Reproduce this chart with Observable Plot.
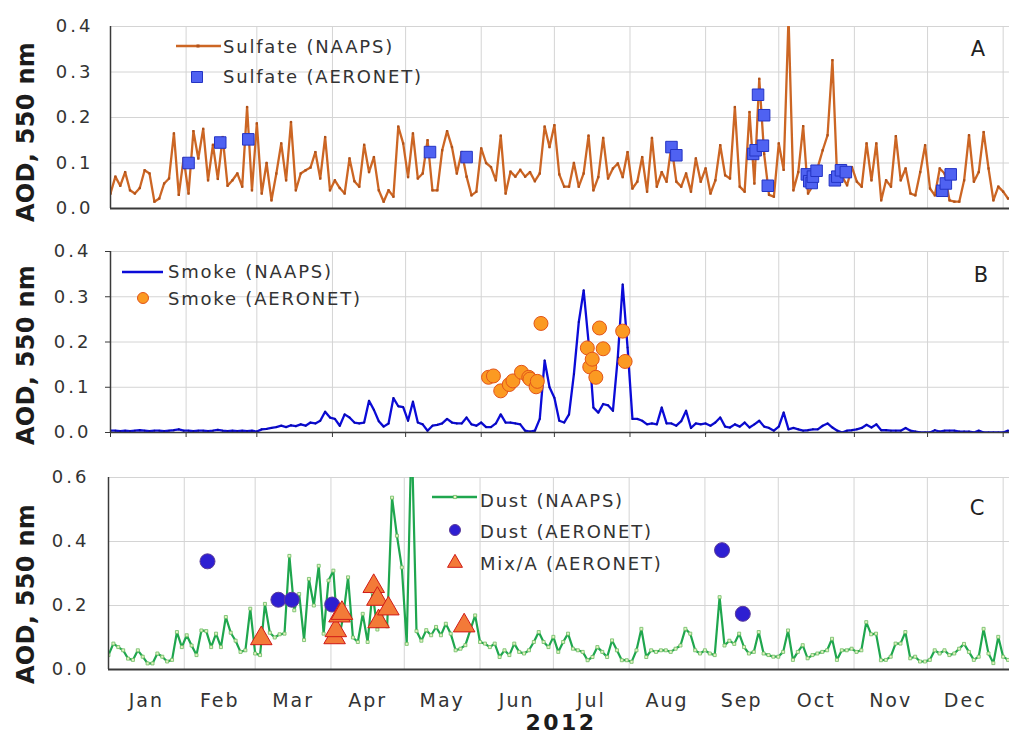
<!DOCTYPE html>
<html><head><meta charset="utf-8">
<script src="https://cdn.jsdelivr.net/npm/d3@7"></script>
<script src="https://cdn.jsdelivr.net/npm/@observablehq/plot@0.6"></script>
<style>
body{margin:0;background:#fff;}
#chart{width:1009px;height:736px;overflow:hidden;background:#fff;}
#chart svg{display:block;}
</style></head><body><div id="chart"></div>
<script>
// ---------------- data (2012, one value every 2 days starting Jan 1) ----------------
const START_UTC = Date.UTC(2012, 0, 1);
const STEP_DAYS = 2;
const monthLabels = ["Jan","Feb","Mar","Apr","May","Jun","Jul","Aug","Sep","Oct","Nov","Dec"];
const yTicksA = [0, 0.1, 0.2, 0.3, 0.4];
const yTicksB = [0, 0.1, 0.2, 0.3, 0.4];
const yTicksC = [0, 0.2, 0.4, 0.6];

const sulfateNaaps = [
 0.033,0.070,0.050,0.080,0.040,0.033,0.045,0.084,0.077,0.015,
 0.022,0.055,0.066,0.165,0.030,0.110,0.033,0.170,0.110,0.175,
 0.062,0.140,0.065,0.157,0.050,0.062,0.077,0.048,0.223,0.040,
 0.187,0.033,0.100,0.018,0.077,0.143,0.062,0.190,0.040,0.077,
 0.084,0.090,0.124,0.066,0.157,0.040,0.062,0.045,0.033,0.110,
 0.060,0.048,0.140,0.080,0.113,0.040,0.015,0.040,0.026,0.180,
 0.143,0.069,0.165,0.066,0.077,0.150,0.040,0.040,0.128,0.170,
 0.135,0.077,0.124,0.070,0.029,0.037,0.132,0.100,0.091,0.062,
 0.160,0.033,0.081,0.070,0.085,0.070,0.080,0.060,0.077,0.180,
 0.135,0.183,0.075,0.048,0.048,0.100,0.048,0.077,0.160,0.040,
 0.069,0.155,0.066,0.088,0.099,0.069,0.124,0.044,0.059,0.113,
 0.037,0.155,0.048,0.080,0.059,0.139,0.059,0.048,0.077,0.037,
 0.110,0.059,0.088,0.033,0.062,0.139,0.073,0.066,0.223,0.048,
 0.037,0.212,0.055,0.285,0.120,0.030,0.026,0.143,0.085,0.420,
 0.040,0.080,0.181,0.033,0.050,0.091,0.128,0.161,0.326,0.059,
 0.070,0.051,0.091,0.059,0.048,0.143,0.062,0.143,0.018,0.062,
 0.048,0.159,0.062,0.088,0.033,0.029,0.080,0.139,0.044,0.029,
 0.088,0.077,0.018,0.015,0.015,0.062,0.161,0.059,0.080,0.168,
 0.088,0.018,0.048,0.037,0.022
];
const smokeNaaps = [
 0.004,0.004,0.003,0.004,0.003,0.004,0.005,0.004,0.003,0.004,
 0.004,0.003,0.004,0.005,0.007,0.004,0.004,0.003,0.004,0.004,
 0.003,0.004,0.006,0.004,0.003,0.004,0.003,0.004,0.003,0.004,
 0.002,0.007,0.008,0.010,0.012,0.015,0.012,0.016,0.014,0.018,
 0.015,0.022,0.020,0.026,0.046,0.033,0.030,0.015,0.040,0.033,
 0.022,0.020,0.022,0.070,0.050,0.025,0.013,0.020,0.076,0.058,
 0.056,0.026,0.068,0.022,0.018,0.004,0.015,0.017,0.020,0.030,
 0.022,0.020,0.020,0.033,0.018,0.015,0.022,0.012,0.012,0.020,
 0.040,0.022,0.022,0.020,0.018,0.004,0.002,0.004,0.030,0.159,
 0.100,0.077,0.026,0.022,0.040,0.129,0.244,0.314,0.200,0.055,
 0.044,0.063,0.060,0.048,0.166,0.327,0.188,0.030,0.030,0.026,
 0.018,0.020,0.018,0.055,0.020,0.020,0.015,0.025,0.048,0.010,
 0.020,0.018,0.020,0.015,0.022,0.033,0.013,0.011,0.018,0.013,
 0.022,0.011,0.018,0.026,0.013,0.010,0.004,0.013,0.044,0.007,
 0.010,0.007,0.004,0.005,0.007,0.007,0.015,0.020,0.011,0.004,
 0.000,0.004,0.005,0.007,0.010,0.017,0.011,0.018,0.005,0.005,
 0.004,0.004,0.004,0.010,0.004,0.002,0.000,0.000,0.000,0.005,
 0.002,0.004,0.004,0.004,0.002,0.002,0.002,0.000,0.004,0.000,
 0.000,0.000,0.000,0.000,0.004
];
const dustNaaps = [
 0.045,0.081,0.070,0.060,0.034,0.030,0.060,0.040,0.019,0.019,
 0.050,0.040,0.025,0.030,0.117,0.070,0.107,0.075,0.045,0.122,
 0.120,0.070,0.112,0.070,0.164,0.115,0.090,0.055,0.060,0.190,
 0.050,0.045,0.205,0.115,0.100,0.110,0.112,0.355,0.185,0.236,
 0.092,0.283,0.200,0.324,0.112,0.278,0.309,0.086,0.165,0.288,
 0.100,0.086,0.174,0.086,0.241,0.125,0.165,0.135,0.537,0.418,
 0.319,0.080,0.750,0.120,0.090,0.123,0.107,0.133,0.107,0.143,
 0.112,0.060,0.065,0.076,0.123,0.169,0.086,0.081,0.070,0.081,
 0.039,0.060,0.045,0.081,0.055,0.050,0.060,0.086,0.117,0.086,
 0.070,0.102,0.055,0.086,0.112,0.065,0.060,0.055,0.029,0.039,
 0.070,0.055,0.039,0.091,0.060,0.029,0.029,0.024,0.060,0.127,
 0.039,0.060,0.055,0.060,0.060,0.055,0.065,0.075,0.127,0.112,
 0.060,0.050,0.060,0.050,0.045,0.226,0.075,0.090,0.080,0.112,
 0.070,0.050,0.055,0.117,0.050,0.045,0.040,0.040,0.055,0.122,
 0.030,0.055,0.076,0.035,0.045,0.050,0.055,0.060,0.096,0.030,
 0.060,0.060,0.065,0.055,0.060,0.148,0.110,0.112,0.029,0.030,
 0.040,0.081,0.081,0.117,0.035,0.040,0.025,0.025,0.030,0.060,
 0.050,0.060,0.045,0.050,0.065,0.080,0.055,0.030,0.040,0.127,
 0.050,0.020,0.102,0.040,0.030
];

// AERONET retrievals: day of year (0 = Jan 1) and AOD
const sulfateAeroDay = [32, 45, 56.5, 131, 146, 230, 232, 263.5, 264.5, 265.5, 267.5, 268, 269.5, 285.5, 286.5, 287.5, 288, 289.5, 297, 298, 299.5, 301.5, 341, 342.5, 344.5];
const sulfateAeroAod = [0.100, 0.145, 0.152, 0.124, 0.113, 0.135, 0.117, 0.120, 0.128, 0.250, 0.138, 0.205, 0.050, 0.075, 0.060, 0.056, 0.070, 0.083, 0.062, 0.070, 0.084, 0.080, 0.039, 0.055, 0.075];
const smokeAeroDay = [155, 157, 160, 163.5, 165, 168.5, 171.5, 172, 174.5, 175, 176.5, 195.5, 196.5, 197.5, 199, 200.5, 202, 210, 211];
const smokeAeroAod = [0.122, 0.125, 0.092, 0.106, 0.114, 0.133, 0.122, 0.118, 0.101, 0.113, 0.241, 0.187, 0.145, 0.162, 0.122, 0.231, 0.185, 0.224, 0.157];
const dustAeroDay = [40.5, 69.5, 75, 91.5, 251, 259.5];
const dustAeroAod = [0.338, 0.218, 0.218, 0.203, 0.373, 0.174];
const mixAeroDay = [62.5, 92.5, 93, 94.5, 95.5, 108.5, 110, 110.5, 114.5, 145.5];
const mixAeroAod = [0.097, 0.100, 0.122, 0.168, 0.176, 0.260, 0.220, 0.150, 0.190, 0.137];

// ---------------- helpers ----------------
const FONT = "'DejaVu Sans', Verdana, sans-serif";
const GRID = "#d4d4d4";
const AXIS = "#3a3a3a";
const dayDate = d => new Date(START_UTC + d * 864e5);
const series = arr => arr.map((v, i) => ({date: dayDate(i * STEP_DAYS), aod: v}));
const points = (days, aods) => days.map((d, i) => ({date: dayDate(d), aod: aods[i]}));
const xDomain = [dayDate(0), dayDate(368.6)];
const monthStarts = d3.utcMonths(dayDate(0), dayDate(367));
const monthMids = monthLabels.map((m, i) => new Date((+monthStarts[i] + +monthStarts[i + 1]) / 2));
const fmt1 = d => d.toFixed(1);
const baseStyle = `font-family:${FONT};font-size:18px;letter-spacing:3px;color:#333;background:transparent;overflow:visible;`;

const sulfate = series(sulfateNaaps), smoke = series(smokeNaaps), dust = series(dustNaaps);
const sulfateAero = points(sulfateAeroDay, sulfateAeroAod);
const smokeAero = points(smokeAeroDay, smokeAeroAod);
const dustAero = points(dustAeroDay, dustAeroAod);
const mixAero = points(mixAeroDay, mixAeroAod);

function addText(svg, x, y, str, o = {}) {
  const t = d3.select(svg).append("text").attr("x", x).attr("y", y).text(str)
    .attr("font-family", FONT).attr("font-size", o.size || 18)
    .attr("font-weight", o.weight || "normal").attr("fill", o.fill || "#333")
    .attr("text-anchor", o.anchor || "start")
    .style("letter-spacing", (o.ls ?? 1.8) + "px");
  if (o.rotate) t.attr("transform", `rotate(${o.rotate},${x},${y})`);
}
function addSymbol(svg, type, x, y, size, fill, stroke, sw = 1) {
  d3.select(svg).append("path").attr("d", d3.symbol(type, size)())
    .attr("transform", `translate(${x},${y})`).attr("fill", fill).attr("stroke", stroke).attr("stroke-width", sw);
}
function addSwatch(svg, x1, x2, y, color) {
  d3.select(svg).append("line").attr("x1", x1).attr("x2", x2).attr("y1", y).attr("y2", y)
    .attr("stroke", color).attr("stroke-width", 2.5);
}

const chart = document.getElementById("chart");

// ---------------- Panel A: sulfate ----------------
const pA = Plot.plot({
  width: 1009, height: 230, marginTop: 26, marginBottom: 22, marginLeft: 110, marginRight: 0,
  style: baseStyle,
  x: {type: "utc", domain: xDomain, axis: null, label: null},
  y: {domain: [0, 0.4], label: null},
  marks: [
    Plot.ruleY(yTicksA, {stroke: GRID, strokeWidth: 1}),
    Plot.ruleX(monthStarts, {stroke: GRID, strokeWidth: 1}),
    Plot.axisY({ticks: yTicksA, tickFormat: fmt1, tickSize: 0, tickPadding: 17, fontSize: 18, label: null}),
    Plot.line(sulfate, {x: "date", y: "aod", stroke: "#cc6624", strokeWidth: 2.3, clip: true}),
    Plot.dot(sulfate, {x: "date", y: "aod", symbol: "square", r: 1.3, fill: "#b0521a", clip: true}),
    Plot.ruleX([xDomain[0]], {stroke: AXIS, strokeWidth: 1.5}),
    Plot.ruleY([0], {stroke: AXIS, strokeWidth: 2}),
    Plot.dot(sulfateAero, {x: "date", y: "aod", symbol: "square", r: 6.5, fill: "#4f62f2", stroke: "#2434c4", strokeWidth: 1})
  ]
});
chart.appendChild(pA);
addText(pA, 34, 132, "AOD, 550 nm", {size: 24, weight: "bold", anchor: "middle", fill: "#1c1c1c", ls: 0.3, rotate: -90});
addSwatch(pA, 176, 221, 46, "#cc6624");
addSymbol(pA, d3.symbolSquare, 198, 46, 9, "#b0521a", "none");
addText(pA, 223, 53, "Sulfate (NAAPS)");
addSymbol(pA, d3.symbolSquare, 197, 77, 121, "#4f62f2", "#2434c4");
addText(pA, 223, 83, "Sulfate (AERONET)");
addText(pA, 978, 56, "A", {size: 21, anchor: "middle", ls: 0, fill: "#222"});

// ---------------- Panel B: smoke ----------------
const pB = Plot.plot({
  width: 1009, height: 222, marginTop: 21, marginBottom: 20, marginLeft: 110, marginRight: 0,
  style: baseStyle,
  x: {type: "utc", domain: xDomain, label: null},
  y: {domain: [0, 0.4], label: null},
  marks: [
    Plot.ruleY(yTicksB, {stroke: GRID, strokeWidth: 1}),
    Plot.ruleX(monthStarts, {stroke: GRID, strokeWidth: 1}),
    Plot.axisY({ticks: yTicksB, tickFormat: fmt1, tickSize: 5, tickPadding: 14, fontSize: 18, stroke: AXIS, label: null}),
    Plot.axisX({ticks: monthStarts, tickFormat: () => "", tickSize: 5, stroke: AXIS, label: null}),
    Plot.line(smoke, {x: "date", y: "aod", stroke: "#0b0bd8", strokeWidth: 2.3, clip: true}),
    Plot.dot(smoke, {x: "date", y: "aod", r: 1, fill: "#0a0a9a", clip: true}),
    Plot.ruleX([xDomain[0]], {stroke: AXIS, strokeWidth: 1.5}),
    Plot.ruleY([0], {stroke: AXIS, strokeWidth: 1.5}),
    Plot.dot(smokeAero, {x: "date", y: "aod", r: 7, fill: "#fb9a22", stroke: "#e2541a", strokeWidth: 1})
  ]
});
chart.appendChild(pB);
addText(pB, 34, 125, "AOD, 550 nm", {size: 24, weight: "bold", anchor: "middle", fill: "#1c1c1c", ls: 0.3, rotate: -90});
addSwatch(pB, 122, 163, 42, "#0b0bd8");
addText(pB, 168, 48, "Smoke (NAAPS)");
addSymbol(pB, d3.symbolCircle, 143, 68, 95, "#fb9a22", "#e2541a");
addText(pB, 168, 75, "Smoke (AERONET)");
addText(pB, 981, 52, "B", {size: 21, anchor: "middle", ls: 0, fill: "#222"});

// ---------------- Panel C: dust ----------------
const pC = Plot.plot({
  width: 1009, height: 284, marginTop: 25, marginBottom: 67, marginLeft: 108, marginRight: 0,
  style: baseStyle,
  x: {type: "utc", domain: xDomain, label: null},
  y: {domain: [0, 0.6], label: null},
  marks: [
    Plot.ruleY(yTicksC, {stroke: GRID, strokeWidth: 1}),
    Plot.ruleX(monthStarts, {stroke: GRID, strokeWidth: 1}),
    Plot.axisY({ticks: yTicksC, tickFormat: fmt1, tickSize: 0, tickPadding: 19, fontSize: 18, label: null}),
    Plot.axisX({ticks: monthMids, tickFormat: d => monthLabels[d.getUTCMonth()], tickSize: 0, tickPadding: 24, fontSize: 19, label: null}),
    Plot.line(dust, {x: "date", y: "aod", stroke: "#1fa64e", strokeWidth: 2.2, clip: true}),
    Plot.dot(dust, {x: "date", y: "aod", symbol: "square", r: 1.7, fill: "#e4f3c6", stroke: "#6cbc62", strokeWidth: 0.8, clip: true}),
    Plot.ruleX([xDomain[0]], {stroke: AXIS, strokeWidth: 1.5}),
    Plot.ruleY([0], {stroke: AXIS, strokeWidth: 2}),
    Plot.dot(dustAero, {x: "date", y: "aod", r: 7.5, fill: "#2e1fd2", stroke: "#5a3a9a", strokeWidth: 1}),
    Plot.dot(mixAero, {x: "date", y: "aod", symbol: "triangle", r: 8, fill: "#f37a38", stroke: "#d01a18", strokeWidth: 1})
  ]
});
chart.appendChild(pC);
d3.select(pC).selectAll('[aria-label="x-axis tick label"] text').style("letter-spacing", "2px");
addText(pC, 34, 142, "AOD, 550 nm", {size: 24, weight: "bold", anchor: "middle", fill: "#1c1c1c", ls: 0.3, rotate: -90});
addSwatch(pC, 432, 477, 45, "#1fa64e");
addSymbol(pC, d3.symbolSquare, 455, 45, 10, "#e4f3c6", "#6cbc62", 0.8);
addText(pC, 480, 55, "Dust (NAAPS)");
addSymbol(pC, d3.symbolCircle, 455, 78, 95, "#2e1fd2", "#5a3a9a");
addText(pC, 480, 86, "Dust (AERONET)");
addSymbol(pC, d3.symbolTriangle, 455, 111, 97, "#f37a38", "#d01a18");
addText(pC, 480, 118, "Mix/A (AERONET)");
addText(pC, 977, 63, "C", {size: 21, anchor: "middle", ls: 0, fill: "#222"});
addText(pC, 561, 278, "2012", {size: 22, weight: "bold", anchor: "middle", fill: "#1c1c1c", ls: 2.5});
</script>
</body></html>
